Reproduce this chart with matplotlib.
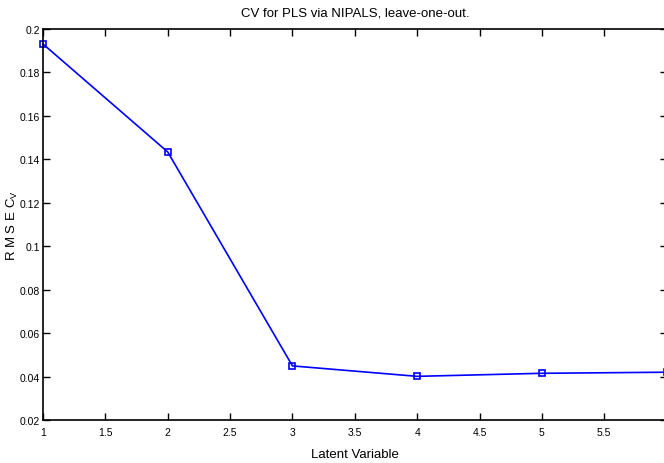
import matplotlib
matplotlib.use('Agg')
import matplotlib.pyplot as plt

plt.rcParams['font.family'] = ['Liberation Sans', 'DejaVu Sans']
plt.rcParams['mathtext.fontset'] = 'custom'
plt.rcParams['mathtext.rm'] = 'Liberation Sans'

latent = [1, 2, 3, 4, 5, 6]
rmsecv = [0.1931, 0.1434, 0.0449, 0.0401, 0.0415, 0.0420]
xticks = [1, 1.5, 2, 2.5, 3, 3.5, 4, 4.5, 5, 5.5]
yticks = [0.02, 0.04, 0.06, 0.08, 0.1, 0.12, 0.14, 0.16, 0.18, 0.2]

fig = plt.figure(figsize=(6.64, 4.64), dpi=100)
ax = fig.add_axes([43 / 664, 43 / 464, 623.6 / 664, 391 / 464])

ax.plot(latent, rmsecv, color='#0000ff', linewidth=1.2, marker='s',
        markersize=5, markerfacecolor='none', markeredgecolor='#0000ff',
        markeredgewidth=1.2, clip_on=False)

ax.set_xlim(1, 6)
ax.set_ylim(0.02, 0.2)
ax.set_xticks(xticks)
ax.set_xticklabels([f'{t:g}' for t in xticks])
ax.set_yticks(yticks)
ax.set_yticklabels([f'{t:g}' for t in yticks])
ax.tick_params(direction='in', length=5, width=1, labelsize=7.5,
               top=True, right=True)
ax.tick_params(axis='x', pad=5)
ax.tick_params(axis='y', pad=2)
for s in ax.spines.values():
    s.set_linewidth(1.2)

ax.set_title('CV for PLS via NIPALS, leave-one-out.', fontsize=9.5, pad=10)
ax.set_xlabel('Latent Variable', fontsize=9.5, labelpad=8)
ax.set_ylabel(r'R M S E C$_{\mathrm{V}}$', fontsize=9.5, labelpad=0)

fig.savefig('out.png', dpi=100)
